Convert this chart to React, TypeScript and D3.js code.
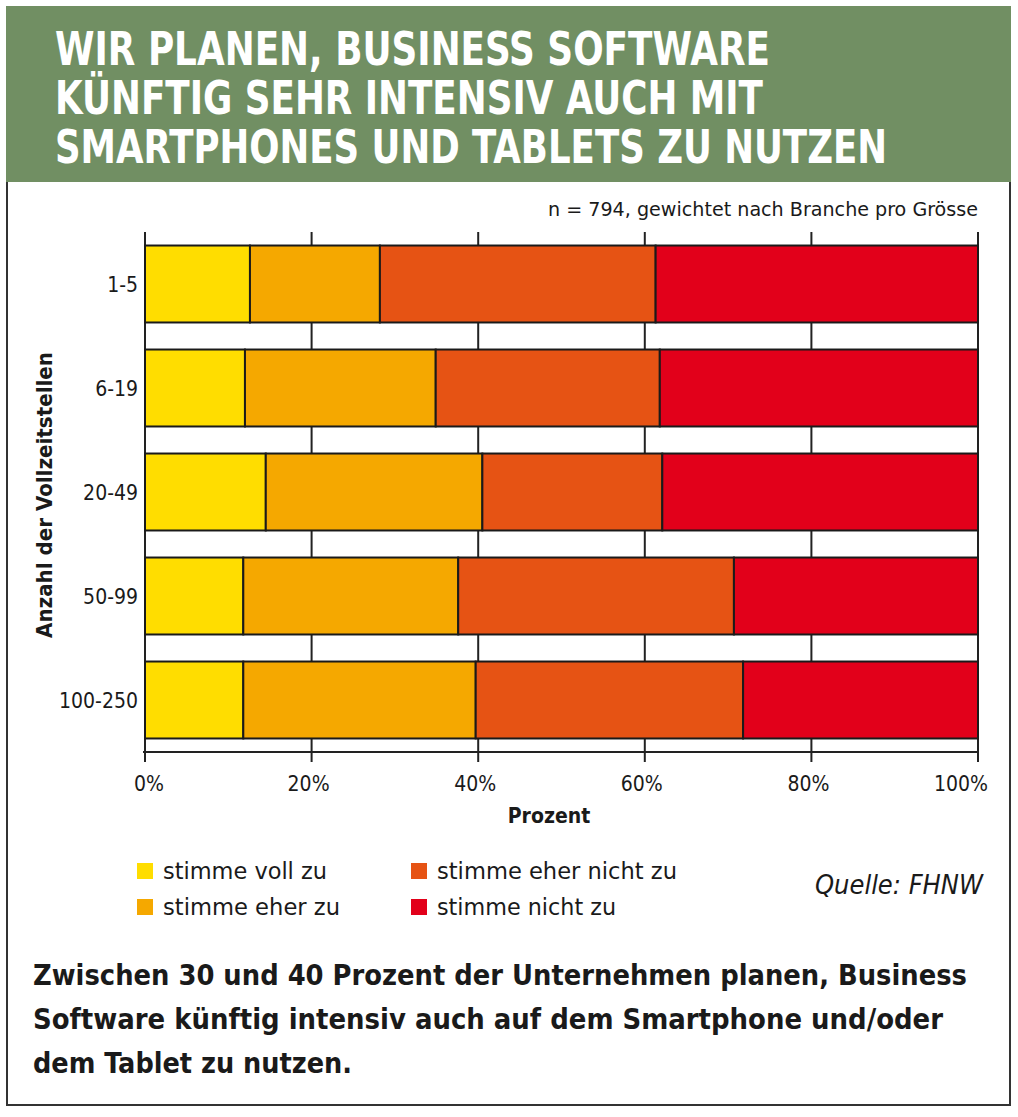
import React from "react";
import * as d3 from "d3";

const categories = ["1-5", "6-19", "20-49", "50-99", "100-250"];
const seriesNames = ["stimme voll zu", "stimme eher zu", "stimme eher nicht zu", "stimme nicht zu"];
const vollZu = [12.6, 12.0, 14.5, 11.8, 11.8];
const eherZu = [15.6, 22.9, 26.0, 25.8, 27.9];
const eherNichtZu = [33.1, 26.9, 21.6, 33.1, 32.1];
const nichtZu = [38.7, 38.2, 37.9, 29.3, 28.2];
const colors = ["#FFDD00", "#F5A800", "#E65314", "#E2001A"];
const xTicks = [0, 20, 40, 60, 80, 100];
const titleLines = [
  "WIR PLANEN, BUSINESS SOFTWARE",
  "KÜNFTIG SEHR INTENSIV AUCH MIT",
  "SMARTPHONES UND TABLETS ZU NUTZEN",
];
const footerLines = [
  "Zwischen 30 und 40 Prozent der Unternehmen planen, Business",
  "Software künftig intensiv auch auf dem Smartphone und/oder",
  "dem Tablet zu nutzen.",
];

const W = 1018;
const H = 1117;
const FONT = "'DejaVu Sans Condensed', 'Liberation Sans Narrow', 'Open Sans', sans-serif";

export default function App() {
  const table = categories.map((c, i) => ({
    cat: c,
    v0: vollZu[i],
    v1: eherZu[i],
    v2: eherNichtZu[i],
    v3: nichtZu[i],
  }));
  const stack = d3.stack<any>().keys(["v0", "v1", "v2", "v3"])(table);

  const x = d3.scaleLinear().domain([0, 100]).range([145, 978]);
  const y = d3.scaleBand().domain(categories).range([232, 752]).paddingInner(0.26).paddingOuter(0.13);

  const titleWidths = [715, 708, 832];
  const footerWidths = [934, 910, 319];
  const legendWidths = [164, 177, 240, 179];

  return (
    <div style={{ position: "absolute", left: 0, top: 0 }}>
      <svg width={W} height={H} style={{ display: "block", background: "#fff" }}>
        {/* frame */}
        <rect x={7} y={7} width={1003} height={1098} fill="#fff" stroke="#333" strokeWidth={2} />
        <rect x={6} y={6} width={1005} height={176} fill="#718F63" />
        {titleLines.map((t, i) => (
          <text
            key={t}
            x={55}
            y={65 + i * 49}
            fill="#fff"
            fontFamily={FONT}
            fontWeight="bold"
            fontSize={46}
            textLength={titleWidths[i]}
            lengthAdjust="spacingAndGlyphs"
          >
            {t}
          </text>
        ))}
        <text
          x={978}
          y={216}
          textAnchor="end"
          fontFamily={FONT}
          fontSize={19}
          fill="#1a1a1a"
          textLength={430}
          lengthAdjust="spacingAndGlyphs"
        >
          n = 794, gewichtet nach Branche pro Grösse
        </text>

        {/* gridlines */}
        {xTicks.map((t) => (
          <line key={"g" + t} x1={x(t)} x2={x(t)} y1={232} y2={752} stroke="#222" strokeWidth={2} />
        ))}
        {/* bars */}
        {stack.map((s, si) =>
          s.map((d: any, i: number) => (
            <rect
              key={si + "-" + i}
              x={x(d[0])}
              y={y(categories[i])}
              width={x(d[1]) - x(d[0])}
              height={y.bandwidth()}
              fill={colors[si]}
              stroke="#1a1a1a"
              strokeWidth={2}
            />
          ))
        )}
        {/* x axis */}
        <line x1={x(0) - 2} x2={x(100) + 1} y1={752} y2={752} stroke="#222" strokeWidth={2} />
        {xTicks.map((t) => (
          <g key={"t" + t}>
            <line x1={x(t)} x2={x(t)} y1={752} y2={762} stroke="#222" strokeWidth={2} />
            <text
              x={t === 0 ? 134 : t === 100 ? 988 : x(t) - 3}
              y={791}
              textAnchor={t === 0 ? "start" : t === 100 ? "end" : "middle"}
              fontFamily={FONT}
              fontSize={21}
              fill="#1a1a1a"
            >
              {t}%
            </text>
          </g>
        ))}
        <text x={549} y={823} textAnchor="middle" fontFamily={FONT} fontWeight="bold" fontSize={21} fill="#1a1a1a">
          Prozent
        </text>

        {/* y axis labels */}
        {categories.map((c) => (
          <text
            key={c}
            x={138}
            y={(y(c) as number) + y.bandwidth() / 2 + 8}
            textAnchor="end"
            fontFamily={FONT}
            fontSize={21}
            fill="#1a1a1a"
          >
            {c}
          </text>
        ))}
        <text
          transform={`translate(52,495) rotate(-90)`}
          textAnchor="middle"
          fontFamily={FONT}
          fontWeight="bold"
          fontSize={21}
          fill="#1a1a1a"
          textLength={286}
          lengthAdjust="spacingAndGlyphs"
        >
          Anzahl der Vollzeitstellen
        </text>

        {/* legend */}
        {seriesNames.map((n, i) => {
          const legendCol = i < 2 ? 0 : 1;
          const row = i % 2;
          const lx = legendCol === 0 ? 137 : 411;
          const ly = 863 + row * 36;
          return (
            <g key={n}>
              <rect x={lx} y={ly} width={16} height={16} fill={colors[i]} />
              <text
                x={lx + 26}
                y={ly + 16}
                fontFamily={FONT}
                fontSize={23}
                fill="#1a1a1a"
                textLength={legendWidths[i]}
                lengthAdjust="spacingAndGlyphs"
              >
                {n}
              </text>
            </g>
          );
        })}
        <text
          x={983}
          y={894}
          textAnchor="end"
          fontFamily={FONT}
          fontStyle="italic"
          fontSize={26}
          fill="#1a1a1a"
          textLength={168}
          lengthAdjust="spacingAndGlyphs"
        >
          Quelle: FHNW
        </text>

        {/* footer */}
        {footerLines.map((t, i) => (
          <text
            key={t}
            x={33}
            y={985 + i * 44}
            fontFamily={FONT}
            fontWeight="bold"
            fontSize={28}
            fill="#1a1a1a"
            textLength={footerWidths[i]}
            lengthAdjust="spacingAndGlyphs"
          >
            {t}
          </text>
        ))}
      </svg>
    </div>
  );
}
